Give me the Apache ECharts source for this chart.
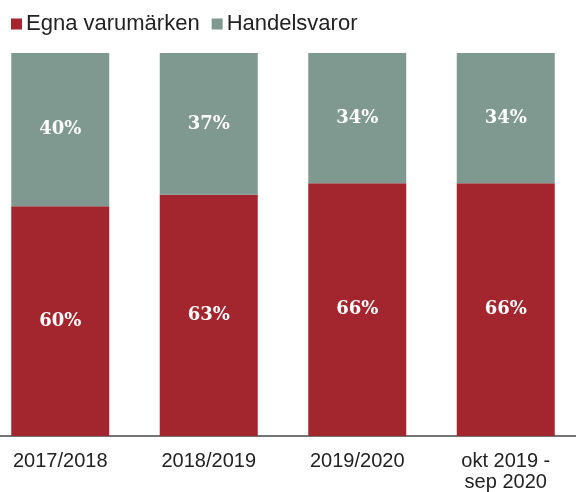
<!DOCTYPE html>
<html>
<head>
<meta charset="utf-8">
<script src="https://cdn.jsdelivr.net/npm/echarts@6/dist/echarts.min.js"></script>
<style>
  html, body { margin: 0; padding: 0; background: #fff; }
  #chart { width: 576px; height: 492px; }
</style>
</head>
<body>
<div id="chart"></div>
<script>
// andel av försäljningen, procent
var perioder = ['2017/2018', '2018/2019', '2019/2020', 'okt 2019 -\nsep 2020'];
var egnaVarumarken = [60, 63, 66, 66];
var handelsvaror = [40, 37, 34, 34];

var chart = echarts.init(document.getElementById('chart'), null, { renderer: 'canvas' });

var etikett = {
  show: true,
  position: 'inside',
  color: '#fff',
  fontFamily: 'DejaVu Serif',
  fontWeight: 'bold',
  fontSize: 18,
  formatter: '{c}%'
};

var option = {
  animation: false,
  legend: {
    left: 6,
    top: 8,
    itemWidth: 11,
    itemHeight: 11,
    itemGap: 12,
    icon: 'rect',
    textStyle: {
      fontFamily: 'Liberation Sans',
      fontSize: 22,
      color: '#222',
      padding: [0, 0, 0, -1]
    },
    data: ['Egna varumärken', 'Handelsvaror']
  },
  grid: {
    outerBoundsMode: 'none',
    left: -14,
    right: -4,
    top: 53,
    bottom: 56
  },
  xAxis: {
    type: 'category',
    data: perioder,
    axisTick: { show: false },
    axisLine: { lineStyle: { color: '#444', width: 1.5 } },
    axisLabel: {
      margin: 15,
      fontFamily: 'Liberation Sans',
      fontSize: 20,
      lineHeight: 21,
      color: '#222'
    }
  },
  yAxis: {
    type: 'value',
    min: 0,
    max: 100,
    show: false
  },
  series: [{
    name: 'Egna varumärken',
    type: 'bar',
    stack: 'andel',
    barWidth: 98,
    data: egnaVarumarken,
    itemStyle: { color: '#a3262f' },
    label: etikett
  }, {
    name: 'Handelsvaror',
    type: 'bar',
    stack: 'andel',
    barWidth: 98,
    data: handelsvaror,
    itemStyle: { color: '#7f9890' },
    label: etikett
  }]
};

chart.setOption(option);
</script>
</body>
</html>
